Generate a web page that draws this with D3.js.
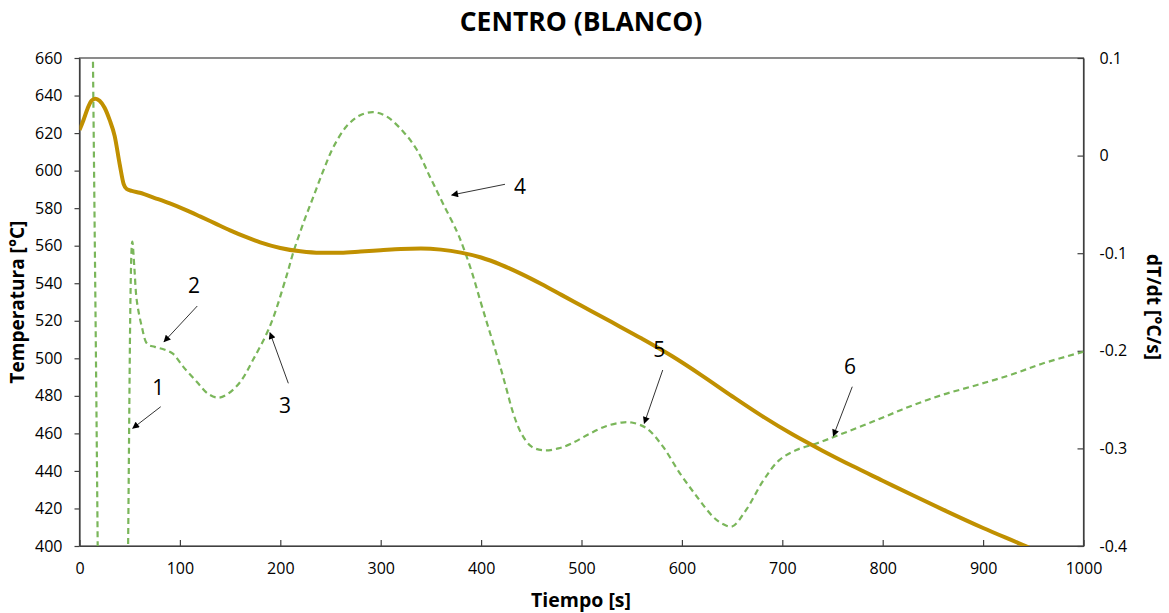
<!DOCTYPE html>
<html>
<head>
<meta charset="utf-8">
<script src="https://cdn.jsdelivr.net/npm/d3@7"></script>
<style>
  body { margin: 0; background: #fff; }
  svg text { font-family: "Open Sans", "Liberation Sans", sans-serif; fill: #000; }
</style>
</head>
<body>
<svg id="chart" width="1169" height="613"></svg>
<script>
// Temperature at the centre of the sample [°C] against time [s]
const tempTime = [0, 4, 8, 12, 16, 20, 25, 30, 35, 40, 44, 47, 52, 60, 75, 90, 105, 120, 135, 150, 165,
  180, 200, 220, 240, 260, 280, 300, 320, 340, 360, 380, 400, 420, 440, 460, 480, 500, 530,
  560, 590, 620, 650, 680, 710, 740, 770, 800, 830, 860, 900, 945, 960];
const temperature = [621.6, 627, 633, 637.3, 638.3, 637.2, 633.5, 627, 618.5, 603.5, 592.8, 590.2, 589.2, 588.2, 585.4, 582.5, 579.2, 575.6, 571.9, 568.2, 564.8,
  561.8, 558.8, 557, 556.2, 556.3, 556.9, 557.6, 558.3, 558.5, 557.9, 556.3, 553.7, 549.8, 545, 539.6, 533.8, 528, 519.3,
  510.5, 501.2, 490.8, 479.8, 469.2, 459.5, 450.8, 442.6, 434.8, 427, 419.4, 409.6, 399.3, 395.7];

// Cooling rate dT/dt [°C/s] against time [s]
const rateTime = [0, 13.3, 18.2, 30, 47.5, 52.6, 54.6, 57, 62, 67.5, 75, 85, 93, 103, 117, 128, 138, 148, 160, 173,
  190, 206, 213, 223, 233, 243, 253, 266, 279, 292.6, 306, 322.5, 336, 349, 362, 376, 383, 391, 399,
  406, 412, 419, 425.5, 432, 440, 450, 462, 477, 490, 508, 525, 540, 550, 565, 581, 598, 615, 631,
  640, 650, 664, 681, 697, 714, 734, 757, 794, 827, 860, 894, 927, 960, 1000];
const rate = [1.5, 0.11, -0.41, -2.0, -0.486, -0.088, -0.114, -0.148, -0.175, -0.193, -0.196, -0.199, -0.203, -0.216, -0.232, -0.244, -0.248, -0.244, -0.232, -0.209,
  -0.174, -0.124, -0.099, -0.069, -0.042, -0.015, 0.009, 0.030, 0.041, 0.0445, 0.040, 0.0245, 0.006, -0.0216, -0.049, -0.078, -0.096, -0.12, -0.148,
  -0.172, -0.192, -0.216, -0.240, -0.264, -0.2845, -0.298, -0.302, -0.300, -0.295, -0.285, -0.277, -0.2735, -0.2735, -0.2795, -0.298, -0.3255, -0.3495, -0.370,
  -0.377, -0.380, -0.363, -0.333, -0.312, -0.3016, -0.295, -0.286, -0.271, -0.257, -0.245, -0.235, -0.2248, -0.2128, -0.201];

// Axis ticks
const xTicks = [0, 100, 200, 300, 400, 500, 600, 700, 800, 900, 1000];
const tempTicks = [400, 420, 440, 460, 480, 500, 520, 540, 560, 580, 600, 620, 640, 660];
const rateTicks = [0.1, 0, -0.1, -0.2, -0.3, -0.4];

// Numbered call-outs, anchored on the dT/dt scale: label point, arrow tail, arrow tip
const noteText = ["1", "2", "3", "4", "5", "6"];
const noteLabel = [[78.5, -0.2368], [114, -0.1326], [204.7, -0.2555], [438.7, -0.0311], [577.5, -0.1985], [767.4, -0.2156]];
const noteTail = [[80.9, -0.2573], [117.3, -0.1541], [208, -0.2333], [423.8, -0.0294], [580.9, -0.2197], [769.7, -0.2368]];
const noteTip = [[53, -0.2794], [84.2, -0.1907], [189.7, -0.1815], [370.7, -0.0404], [562.5, -0.2743], [750.8, -0.2873]];

const plot = { left: 79.5, right: 1083.5, top: 58, bottom: 546 };

const svg = d3.select("#chart");

const x = d3.scaleLinear().domain([0, 1000]).range([plot.left, plot.right]);
const yT = d3.scaleLinear().domain([400, 660]).range([plot.bottom, plot.top]);
const yR = d3.scaleLinear().domain([-0.4, 0.1]).range([plot.bottom, plot.top]);

const defs = svg.append("defs");
defs.append("clipPath").attr("id", "plotClip")
  .append("rect")
  .attr("x", plot.left).attr("y", plot.top)
  .attr("width", plot.right - plot.left).attr("height", plot.bottom - plot.top);

defs.append("marker")
  .attr("id", "arrowHead")
  .attr("viewBox", "0 0 10 10")
  .attr("refX", 9).attr("refY", 5)
  .attr("markerWidth", 9).attr("markerHeight", 7)
  .attr("markerUnits", "userSpaceOnUse")
  .attr("orient", "auto")
  .append("path").attr("d", "M0,0 L10,5 L0,10 Z").attr("fill", "#000");

// Title
svg.append("text")
  .attr("x", 581).attr("y", 31)
  .attr("text-anchor", "middle")
  .attr("font-size", 26.5).attr("font-weight", "bold")
  .text("CENTRO (BLANCO)");

// Plot frame
svg.append("rect")
  .attr("x", plot.left).attr("y", plot.top)
  .attr("width", plot.right - plot.left).attr("height", plot.bottom - plot.top)
  .attr("fill", "none").attr("stroke", "#404040").attr("stroke-width", 1.2);

const axisStyle = g => {
  g.select(".domain").attr("stroke", "#404040").attr("stroke-width", 1.2);
  g.selectAll(".tick line").attr("stroke", "#404040").attr("stroke-width", 1.2);
  g.selectAll(".tick text").attr("font-size", 16).attr("fill", "#000")
    .attr("font-family", "\"Open Sans\", sans-serif");
};

// Bottom axis: ticks pointing into the plot
svg.append("g")
  .attr("transform", `translate(0,${plot.bottom})`)
  .call(d3.axisBottom(x).tickValues(xTicks).tickFormat(d3.format("d"))
    .tickSize(-6).tickPadding(17).tickSizeOuter(0))
  .call(axisStyle);

// Left axis (temperature)
svg.append("g")
  .attr("transform", `translate(${plot.left},0)`)
  .call(d3.axisLeft(yT).tickValues(tempTicks).tickSize(5).tickPadding(12).tickSizeOuter(0))
  .call(axisStyle);

// Right axis (cooling rate): ticks pointing inward, labels left aligned
const fmtRate = d => (d === 0 ? "0" : String(+d.toFixed(1)));
svg.append("g")
  .attr("transform", `translate(${plot.right},0)`)
  .call(d3.axisRight(yR).tickValues(rateTicks).tickFormat(fmtRate)
    .tickSize(-6).tickPadding(16).tickSizeOuter(0))
  .call(axisStyle);

// Axis titles
svg.append("text")
  .attr("x", 581).attr("y", 607)
  .attr("text-anchor", "middle")
  .attr("font-size", 19.5).attr("font-weight", "bold")
  .text("Tiempo [s]");

svg.append("text")
  .attr("transform", `translate(24,${(plot.top + plot.bottom) / 2}) rotate(-90)`)
  .attr("text-anchor", "middle")
  .attr("font-size", 19).attr("font-weight", "bold")
  .text("Temperatura [°C]");

svg.append("text")
  .attr("transform", `translate(1147,${(plot.top + plot.bottom) / 2 + 5}) rotate(90)`)
  .attr("text-anchor", "middle")
  .attr("font-size", 19).attr("font-weight", "bold")
  .text("dT/dt [°C/s]");

// Data series
const series = svg.append("g").attr("clip-path", "url(#plotClip)");

const rateLine = d3.line()
  .x((d, i) => x(rateTime[i]))
  .y(d => yR(d))
  .curve(d3.curveCatmullRom.alpha(0.5));

series.append("path")
  .datum(rate)
  .attr("d", rateLine)
  .attr("fill", "none")
  .attr("stroke", "#7ab65a")
  .attr("stroke-width", 2.2)
  .attr("stroke-dasharray", "6,4");

const tempLine = d3.line()
  .x((d, i) => x(tempTime[i]))
  .y(d => yT(d))
  .curve(d3.curveMonotoneX);

series.append("path")
  .datum(temperature)
  .attr("d", tempLine)
  .attr("fill", "none")
  .attr("stroke", "#c09000")
  .attr("stroke-width", 4)
  .attr("stroke-linejoin", "round");

// Call-outs
const notes = svg.append("g");
noteText.forEach((t, i) => {
  notes.append("line")
    .attr("x1", x(noteTail[i][0])).attr("y1", yR(noteTail[i][1]))
    .attr("x2", x(noteTip[i][0])).attr("y2", yR(noteTip[i][1]))
    .attr("stroke", "#333").attr("stroke-width", 1)
    .attr("marker-end", "url(#arrowHead)");
  notes.append("text")
    .attr("x", x(noteLabel[i][0])).attr("y", yR(noteLabel[i][1]))
    .attr("text-anchor", "middle")
    .attr("dominant-baseline", "central")
    .attr("font-size", 21)
    .text(t);
});
</script>
</body>
</html>
